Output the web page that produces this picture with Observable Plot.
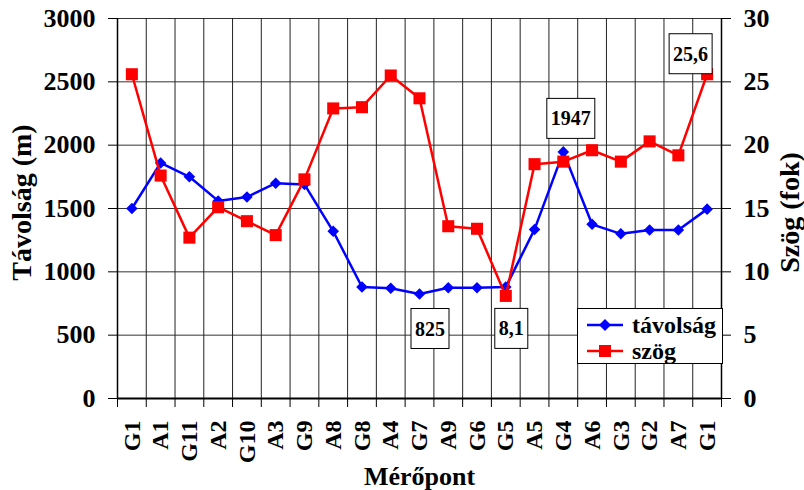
<!DOCTYPE html>
<html><head><meta charset="utf-8">
<script src="https://cdn.jsdelivr.net/npm/d3@7"></script>
<script src="https://cdn.jsdelivr.net/npm/@observablehq/plot@0.6"></script>
<style>
html,body{margin:0;padding:0;background:#fff;}
#wrap{position:relative;width:804px;height:490px;font-family:"Liberation Serif",Tinos,"Times New Roman","DejaVu Serif","Noto Serif",serif;font-weight:bold;color:#000;}
#legend{position:absolute;left:577px;top:308px;width:144px;height:54px;border:1px solid #000;background:#fff;box-sizing:content-box;}
#legend .row{position:absolute;left:0;height:26px;display:flex;align-items:center;font-size:24px;line-height:26px;}
#legend svg{margin-left:9px;margin-right:9px;}
svg text{font-family:"Liberation Serif",Tinos,"Times New Roman","DejaVu Serif","Noto Serif",serif;font-weight:bold;}
</style></head><body><div id="wrap"></div>
<script>
const points = ["G1","A1","G11","A2","G10","A3","G9","A8","G8","A4","G7","A9","G6","G5","A5","G4","A6","G3","G2","A7","G1"];
const tavolsag = [1500,1860,1750,1560,1590,1700,1690,1320,880,870,825,875,875,880,1335,1947,1375,1300,1330,1330,1495];
const szog = [25.6,17.6,12.7,15.1,14.0,12.9,17.3,22.9,23.0,25.5,23.7,13.6,13.4,8.1,18.5,18.7,19.6,18.7,20.3,19.2,25.6];
const leftTicks = [0,500,1000,1500,2000,2500,3000];
const rightTicks = [0,5,10,15,20,25,30];
const seriesNames = ["távolság","szög"];
const seriesColors = ["#0000ff","#ff0000"];
const labels = [
  {series:0, index:10, dx:11, dy:35},
  {series:1, index:13, dx:6, dy:33},
  {series:0, index:15, dx:8, dy:-33},
  {series:1, index:20, dx:-16, dy:-20}
];

const ratio = leftTicks[leftTicks.length-1] / rightTicks[rightTicks.length-1];
const idx = d3.range(points.length);
const bounds = d3.range(points.length + 1).map(i => i - 0.5);
const fmt = v => String(v).replace(".", ",");
const yOf = [i => tavolsag[i], i => szog[i] * ratio];
const valOf = [i => tavolsag[i], i => szog[i]];
const FONT = '"Liberation Serif",Tinos,"Times New Roman","DejaVu Serif","Noto Serif",serif';

const svg = Plot.plot({
  width: 804, height: 490,
  marginLeft: 117, marginRight: 83, marginTop: 18, marginBottom: 92,
  style: {fontFamily: FONT, fontWeight: "bold", background: "#fff", color: "#000", overflow: "visible"},
  x: {type: "linear", domain: [bounds[0], bounds[bounds.length-1]]},
  y: {domain: [leftTicks[0], leftTicks[leftTicks.length-1]]},
  marks: [
    Plot.gridY(leftTicks, {stroke: "#333", strokeOpacity: 1, strokeWidth: 1}),
    Plot.gridX(bounds, {stroke: "#222", strokeOpacity: 1, strokeWidth: 1}),
    Plot.axisY(leftTicks, {anchor: "left", tickSize: 9, tickPadding: 13, fontSize: 26, label: null, tickFormat: d => String(d)}),
    Plot.axisY(rightTicks.map(v => v * ratio), {anchor: "right", tickFormat: d => String(d / ratio), tickSize: 9, tickPadding: 13, fontSize: 26, label: null}),
    Plot.axisX(bounds, {tickSize: 9, tickFormat: () => "", label: null}),
    Plot.axisX(idx, {tickSize: 0, tickFormat: i => points[i], tickRotate: -90, tickPadding: 22, fontSize: 24, label: null}),
    Plot.ruleY([leftTicks[0]], {stroke: "#000", strokeWidth: 2}),
    Plot.ruleX([bounds[0], bounds[bounds.length-1]], {stroke: "#000", strokeWidth: 1.5}),
    Plot.line(idx, {x: i => i, y: yOf[0], stroke: seriesColors[0], strokeWidth: 2.5}),
    Plot.dot(idx, {x: i => i, y: yOf[0], symbol: "diamond2", r: 5.2, fill: seriesColors[0], stroke: "none"}),
    Plot.line(idx, {x: i => i, y: yOf[1], stroke: seriesColors[1], strokeWidth: 2.5}),
    Plot.dot(idx, {x: i => i, y: yOf[1], symbol: "square", r: 6.8, fill: seriesColors[1], stroke: "none"}),
    Plot.text(["Távolság (m)"], {frameAnchor: "left", textAnchor: "middle", rotate: -90, dx: -95, dy: -6, fontSize: 28, lineAnchor: "middle"}),
    Plot.text(["Szög (fok)"], {frameAnchor: "right", textAnchor: "middle", rotate: -90, dx: 69, dy: 4, fontSize: 28, lineAnchor: "middle"}),
    Plot.text(["Mérőpont"], {frameAnchor: "bottom", dy: 78, fontSize: 26, lineAnchor: "middle"})
  ]
});
const wrap = document.getElementById("wrap");
wrap.appendChild(svg);

// value labels in boxes, positioned through the plot's scales
const xs = svg.scale("x"), ys = svg.scale("y");
const root = d3.select(svg);
labels.forEach(a => {
  const cx = xs.apply(a.index) + a.dx;
  const cy = ys.apply(yOf[a.series](a.index)) + a.dy;
  const g = root.append("g");
  const t = g.append("text")
    .attr("x", cx).attr("y", cy).attr("dy", "0.35em")
    .attr("text-anchor", "middle").attr("font-size", 20).attr("fill", "#000")
    .text(fmt(valOf[a.series](a.index)));
  const b = t.node().getBBox();
  g.insert("rect", "text")
    .attr("x", b.x - 4).attr("y", cy - 20)
    .attr("width", b.width + 8).attr("height", 40)
    .attr("fill", "#fff").attr("stroke", "#000").attr("stroke-width", 1);
});

// legend
const leg = document.createElement("div");
leg.id = "legend";
seriesNames.forEach((name, k) => {
  const row = document.createElement("div");
  row.className = "row";
  row.style.top = (k === 0 ? 3 : 29) + "px";
  const sym = k === 0
    ? `<polygon points="18,1 24,7 18,13 12,7" fill="${seriesColors[k]}"/>`
    : `<rect x="12" y="1" width="12" height="12" fill="${seriesColors[k]}"/>`;
  row.innerHTML = `<svg width="36" height="14"><line x1="0" y1="7" x2="36" y2="7" stroke="${seriesColors[k]}" stroke-width="2.5"/>${sym}</svg><span>${name}</span>`;
  leg.appendChild(row);
});
wrap.appendChild(leg);
</script></body></html>
